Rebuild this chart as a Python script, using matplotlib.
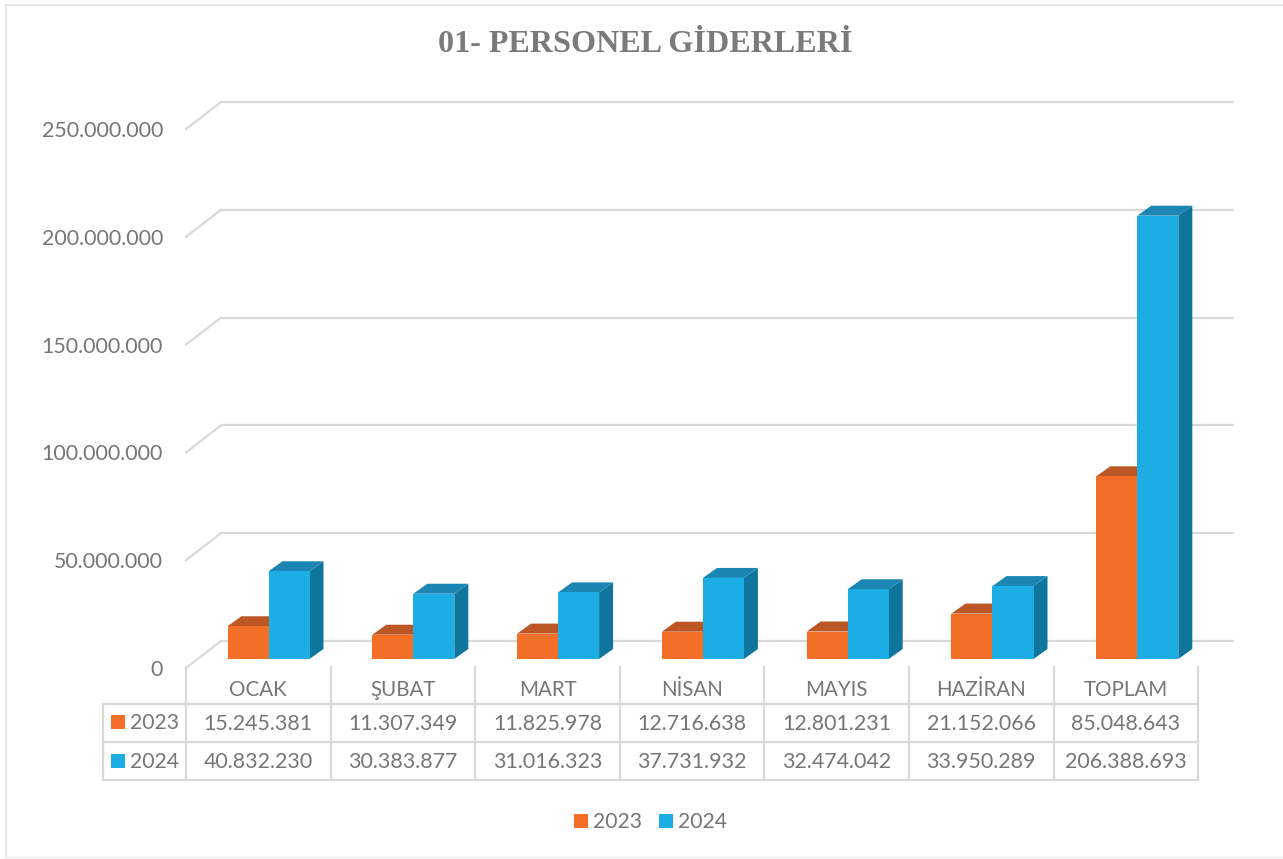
import matplotlib
matplotlib.use("Agg")
import matplotlib.pyplot as plt
from matplotlib.patches import Polygon, Rectangle

months = ["OCAK", "ŞUBAT", "MART", "NİSAN", "MAYIS", "HAZİRAN", "TOPLAM"]
values_2023 = [15245381, 11307349, 11825978, 12716638, 12801231, 21152066, 85048643]
values_2024 = [40832230, 30383877, 31016323, 37731932, 32474042, 33950289, 206388693]
y_ticks = [0, 50000000, 100000000, 150000000, 200000000, 250000000]

ORANGE = "#F36F27"
ORANGE_TOP = "#BC5725"
BLUE = "#1CADE4"
BLUE_TOP = "#1B86B4"
BLUE_SIDE = "#10759C"
TEXT = "#767676"
GRID = "#D9D9D9"

W, H = 1283, 859
COL_W = 144.6
BAR_COL_W = 144.8
BAR_H = 537
GRID_H = 539
FONT = "Lato"


def dots(v):
    return f"{v:,}".replace(",", ".")


fig = plt.figure(figsize=(W / 100, H / 100), dpi=100, facecolor="white")

# layout layer in pixels: frame, title, table, legend
page = fig.add_axes([0, 0, 1, 1])
page.set_xlim(0, W)
page.set_ylim(H, 0)
page.axis("off")

# back wall has its own axes, a bit taller than the bar plane
wall = fig.add_axes([221 / W, (H - 641) / H, 1013 / W, GRID_H / H])
wall.set_xlim(0, 1013)
wall.set_ylim(0, 250000000)
wall.axis("off")
wall.patch.set_alpha(0)

# bars live in their own axes, so heights come from the value scale
ax = fig.add_axes([196.1 / W, (H - 659) / H, 7 * BAR_COL_W / W, BAR_H / H])
ax.set_xlim(-0.5, 6.5)
ax.set_ylim(0, 250000000)
ax.axis("off")
ax.patch.set_alpha(0)

# pixel offsets expressed in data units
dx = 1 / BAR_COL_W
dy = 250000000 / BAR_H
wall_dy = 250000000 / GRID_H

page.plot([6, 6], [5, 857], color="#E2E2E2", lw=1.2)
page.plot([6, W], [5, 5], color="#E2E2E2", lw=1.2)
page.plot([6, W], [857, 857], color="#EDEDED", lw=1.0)

page.text(645, 45, "01- PERSONEL GİDERLERİ", ha="center", va="center",
          family="Liberation Serif", weight="bold", size=23.1, color="#7A7A7A")

# gridlines on back wall plus the diagonal floor/wall edge
for t in y_ticks:
    wall.plot([0, 1013], [t, t], color=GRID, lw=1.6, clip_on=False, solid_capstyle="butt")
    wall.plot([0, -35], [t, t - 27 * wall_dy], color=GRID, lw=1.6, clip_on=False)
    wall.text(-58, t - 29 * wall_dy, dots(t), ha="right", va="center",
              family=FONT, size=15.4, color=TEXT, clip_on=False)

bar_w = 41 / BAR_COL_W
depth_x, depth_y = 14 * dx, 10 * dy

for i in range(len(months)):
    for vals, off, front, top, side in [
        (values_2023, -bar_w / 2, ORANGE, ORANGE_TOP, ORANGE_TOP),
        (values_2024, bar_w / 2, BLUE, BLUE_TOP, BLUE_SIDE),
    ]:
        x0 = i + off - bar_w / 2
        x1 = i + off + bar_w / 2
        v = vals[i]
        ax.add_patch(Polygon([(x1, 0), (x1 + depth_x, depth_y), (x1 + depth_x, v + depth_y), (x1, v)],
                             closed=True, fc=side, ec="none", clip_on=False))
        ax.add_patch(Polygon([(x0, v), (x0 + depth_x, v + depth_y), (x1 + depth_x, v + depth_y), (x1, v)],
                             closed=True, fc=top, ec="none", clip_on=False))
        ax.bar(i + off, v, width=bar_w, color=front, clip_on=False)

# data table
table_x = [186 + COL_W * k for k in range(len(months) + 1)]
rows_y = [704, 742, 780]
for x in table_x:
    page.plot([x, x], [667, 780], color=GRID, lw=1.6)
page.plot([103, 103], [704, 780], color=GRID, lw=1.6)
for y in rows_y:
    page.plot([103, table_x[-1]], [y, y], color=GRID, lw=1.6)

for k, m in enumerate(months):
    xc = table_x[k] + COL_W / 2
    page.text(xc, 690, m, ha="center", va="center", family=FONT, size=14.8, color=TEXT)
    page.text(xc, 724, dots(values_2023[k]), ha="center", va="center", family=FONT, size=15.4, color=TEXT)
    page.text(xc, 762, dots(values_2024[k]), ha="center", va="center", family=FONT, size=15.4, color=TEXT)

for yc, label, col in [(722, "2023", ORANGE), (761, "2024", BLUE)]:
    page.add_patch(Rectangle((111, yc - 7), 14, 14, fc=col, ec="none"))
    page.text(130, yc + 1, label, ha="left", va="center", family=FONT, size=15.2, color=TEXT)

# legend
for xl, label, col in [(574, "2023", ORANGE), (659, "2024", BLUE)]:
    page.add_patch(Rectangle((xl, 814), 14, 14, fc=col, ec="none"))
    page.text(xl + 19, 822, label, ha="left", va="center", family=FONT, size=15.2, color=TEXT)

fig.savefig("out.png", dpi=100)
